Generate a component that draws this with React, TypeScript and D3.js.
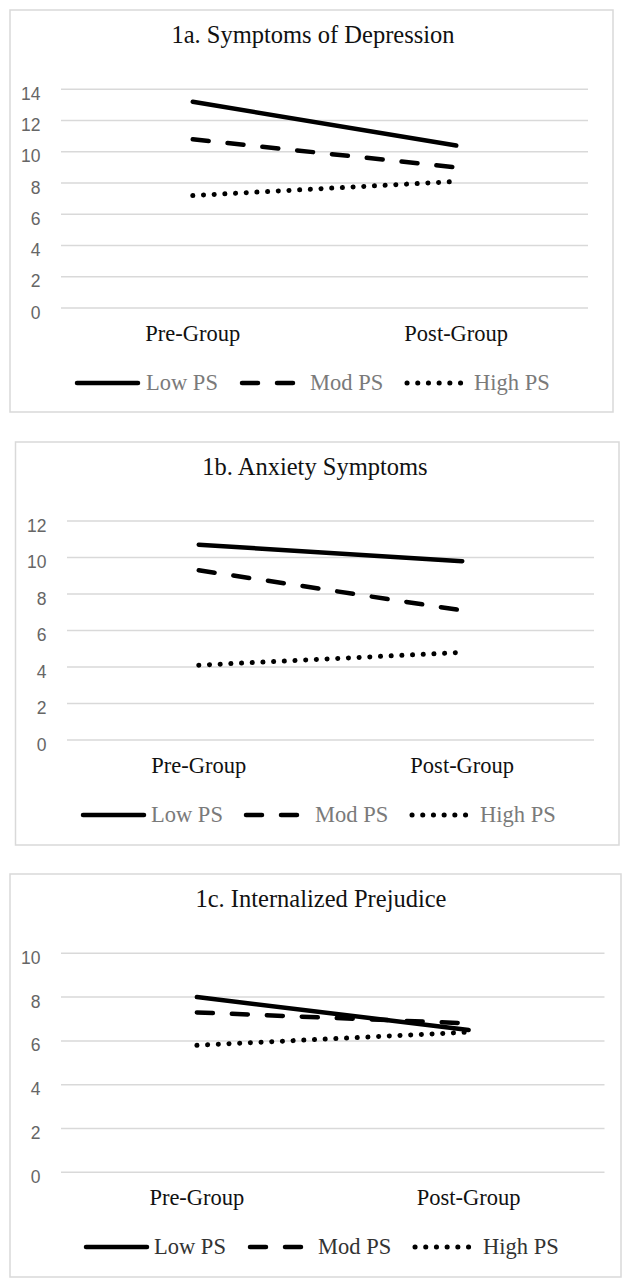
import * as d3 from 'd3';
import { useEffect, useRef } from 'react';

// categories and series
const categories = ['Pre-Group', 'Post-Group'];
const seriesNames = ['Low PS', 'Mod PS', 'High PS'];

// 1a. depression
const depressionLow = [13.2, 10.4];
const depressionMod = [10.8, 9.0];
const depressionHigh = [7.2, 8.1];
const depressionTicks = [0, 2, 4, 6, 8, 10, 12, 14];

// 1b. anxiety
const anxietyLow = [10.7, 9.8];
const anxietyMod = [9.3, 7.1];
const anxietyHigh = [4.1, 4.8];
const anxietyTicks = [0, 2, 4, 6, 8, 10, 12];

// 1c. internalized prejudice
const prejudiceLow = [8.0, 6.5];
const prejudiceMod = [7.3, 6.8];
const prejudiceHigh = [5.8, 6.4];
const prejudiceTicks = [0, 2, 4, 6, 8, 10];

// dash styles per series (solid, long dash, round dot)
const dashes = ['none', '16,19', '0.1,10.6'];

const serif = '"Liberation Serif", "Times New Roman", serif';
const sans = '"Liberation Sans", Arial, sans-serif';

interface PanelCfg {
  title: string;
  series: number[][];
  ticks: number[];
  box: { x: number; y: number; w: number; h: number };
  titleX: number;
  titleY: number;
  plot: { left: number; right: number; top: number; bottom: number };
  catY: number;
  legendY: number;
  legendStart: number[];
  legendEnd: number[];
  legendText: number[];
  legendColor: string;
}

const panels: PanelCfg[] = [
  {
    title: '1a. Symptoms of Depression',
    series: [depressionLow, depressionMod, depressionHigh],
    ticks: depressionTicks,
    box: { x: 10, y: 10, w: 603, h: 402 },
    titleX: 313,
    titleY: 43,
    plot: { left: 61, right: 588, top: 89.3, bottom: 308 },
    catY: 341,
    legendY: 383,
    legendStart: [77, 242, 407],
    legendEnd: [138, 298, 462],
    legendText: [146, 310, 474],
    legendColor: '#7a7a7a',
  },
  {
    title: '1b. Anxiety Symptoms',
    series: [anxietyLow, anxietyMod, anxietyHigh],
    ticks: anxietyTicks,
    box: { x: 15.5, y: 442, w: 603.5, h: 403 },
    titleX: 315,
    titleY: 475,
    plot: { left: 67, right: 594, top: 521, bottom: 740 },
    catY: 773,
    legendY: 815,
    legendStart: [83, 246, 412],
    legendEnd: [144, 302, 468],
    legendText: [151, 315, 480],
    legendColor: '#7a7a7a',
  },
  {
    title: '1c. Internalized Prejudice',
    series: [prejudiceLow, prejudiceMod, prejudiceHigh],
    ticks: prejudiceTicks,
    box: { x: 10, y: 874, w: 611, h: 403 },
    titleX: 321,
    titleY: 907,
    plot: { left: 61, right: 604.5, top: 953.3, bottom: 1172.3 },
    catY: 1205,
    legendY: 1247,
    legendStart: [86, 250, 415],
    legendEnd: [147, 304, 470],
    legendText: [154, 318, 483],
    legendColor: '#333333',
  },
];

function Panel({ cfg }: { cfg: PanelCfg }) {
  const ref = useRef<SVGGElement>(null);

  useEffect(() => {
    const g = d3.select(ref.current);
    g.selectAll('*').remove();

    // outer frame
    g.append('rect')
      .attr('x', cfg.box.x)
      .attr('y', cfg.box.y)
      .attr('width', cfg.box.w)
      .attr('height', cfg.box.h)
      .attr('fill', '#fff')
      .attr('stroke', '#d9d9d9')
      .attr('stroke-width', 1.5);

    g.append('text')
      .attr('x', cfg.titleX)
      .attr('y', cfg.titleY)
      .attr('text-anchor', 'middle')
      .attr('font-family', serif)
      .attr('font-size', 24.5)
      .attr('fill', '#111')
      .text(cfg.title);

    const x = d3
      .scalePoint()
      .domain(categories)
      .range([cfg.plot.left, cfg.plot.right])
      .padding(0.5);

    const y = d3
      .scaleLinear()
      .domain([0, d3.max(cfg.ticks) as number])
      .range([cfg.plot.bottom, cfg.plot.top]);

    // gridlines
    g.selectAll('.grid')
      .data(cfg.ticks)
      .enter()
      .append('line')
      .attr('x1', cfg.plot.left)
      .attr('x2', cfg.plot.right)
      .attr('y1', (d) => y(d))
      .attr('y2', (d) => y(d))
      .attr('stroke', '#d9d9d9')
      .attr('stroke-width', 1.5);

    // y tick labels
    g.selectAll('.tick-label')
      .data(cfg.ticks)
      .enter()
      .append('text')
      .attr('x', cfg.plot.left - 20.5)
      .attr('y', (d) => y(d) + 10.5)
      .attr('text-anchor', 'end')
      .attr('font-family', sans)
      .attr('font-size', 17.5)
      .attr('fill', '#666')
      .text((d) => d);

    // category labels
    g.selectAll('.cat')
      .data(categories)
      .enter()
      .append('text')
      .attr('x', (d) => x(d) as number)
      .attr('y', cfg.catY)
      .attr('text-anchor', 'middle')
      .attr('font-family', serif)
      .attr('font-size', 22.5)
      .attr('fill', '#111')
      .text((d) => d);

    // lines
    const line = d3
      .line<number>()
      .x((_d, i) => x(categories[i]) as number)
      .y((d) => y(d));

    cfg.series.forEach((vals, i) => {
      g.append('path')
        .datum(vals)
        .attr('d', line)
        .attr('fill', 'none')
        .attr('stroke', '#000')
        .attr('stroke-width', i === 2 ? 5 : 4.5)
        .attr('stroke-linecap', 'round')
        .attr('stroke-dasharray', dashes[i]);
    });

    // legend
    seriesNames.forEach((name, i) => {
      g.append('line')
        .attr('x1', cfg.legendStart[i])
        .attr('x2', cfg.legendEnd[i])
        .attr('y1', cfg.legendY)
        .attr('y2', cfg.legendY)
        .attr('stroke', '#000')
        .attr('stroke-width', i === 2 ? 5 : 4.5)
        .attr('stroke-linecap', 'round')
        .attr('stroke-dasharray', dashes[i]);
      g.append('text')
        .attr('x', cfg.legendText[i])
        .attr('y', cfg.legendY + 7)
        .attr('font-family', serif)
        .attr('font-size', 22.5)
        .attr('fill', cfg.legendColor)
        .text(name);
    });
  }, [cfg]);

  return <g ref={ref} />;
}

export default function App() {
  return (
    <svg
      width={625}
      height={1280}
      style={{ position: 'absolute', left: 0, top: 0, background: '#fff' }}
    >
      <rect x={0} y={0} width={625} height={1280} fill="#fff" />
      {panels.map((p) => (
        <Panel key={p.title} cfg={p} />
      ))}
    </svg>
  );
}
